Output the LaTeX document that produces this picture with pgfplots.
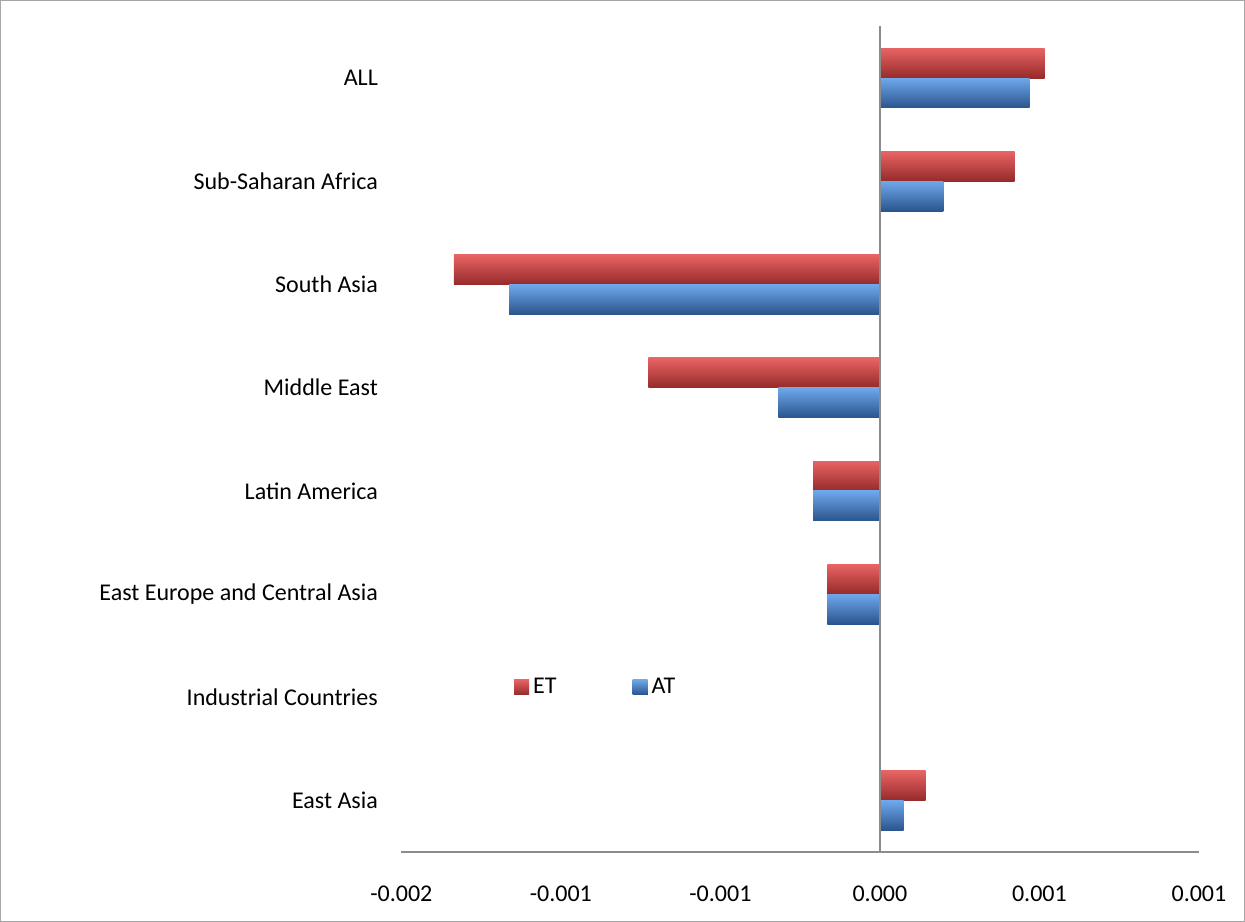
\documentclass[border=0pt]{standalone}
\usepackage{pgfplots}
\pgfplotsset{compat=1.18}
\usepackage{fontspec}
\setmainfont{Carlito}
\definecolor{redtop}{HTML}{E86464}
\definecolor{redmid}{HTML}{C43D3D}
\definecolor{redbot}{HTML}{962A2A}
\definecolor{bluetop}{HTML}{6EA8EC}
\definecolor{bluemid}{HTML}{3E76BE}
\definecolor{bluebot}{HTML}{2A548C}
\definecolor{axgray}{HTML}{8C8C8C}
\pgfplotsset{
  ETbar/.style={draw=none, top color=redtop, middle color=redmid, bottom color=redbot, bar shift=0.145},
  ATbar/.style={draw=none, top color=bluetop, middle color=bluemid, bottom color=bluebot, bar shift=-0.145},
}
\begin{document}
\begin{tikzpicture}
\begin{axis}[
  at={(0pt,0pt)}, anchor=south west,
  scale only axis,
  width=398.5pt, height=412.6pt,
  xmin=-0.0015, xmax=0.001,
  ymin=-0.5, ymax=7.5,
  axis line style={draw=none},
  major tick length=0pt,
  xtick={-0.0015,-0.001,-0.0005,0,0.0005,0.001},
  xticklabels={-0.002,-0.001,-0.001,0.000,0.001,0.001},
  ytick={0,1,2,3,4,5,6,7},
  yticklabels={East Asia,Industrial Countries,East Europe and Central Asia,Latin America,Middle East,South Asia,Sub-Saharan Africa,ALL},
  ticklabel style={font=\fontsize{12}{14}\selectfont},
  yticklabel style={inner sep=0pt, xshift=-11.5pt},
  xticklabel style={inner sep=0pt, yshift=-16.5pt},
  scaled x ticks=false,
  xbar, bar width=0.29,
  legend columns=2,
  legend style={at={(0.245,0.2)}, anchor=center, draw=none, fill=none,
    font=\fontsize{12}{14}\selectfont, /tikz/every even column/.append style={column sep=36pt}},
  legend image code/.code={\fill[#1] (0pt,-3.75pt) rectangle (7.5pt,3.75pt);},
  clip=false,
]
% ET series
\addplot[ETbar] coordinates {(0.000516,7)};
\addlegendentry{ET}
% AT series
\addplot[ATbar] coordinates {(0.000469,7)};
\addlegendentry{AT}
\addplot[ETbar, forget plot] coordinates {(0.000422,6)};
\addplot[ETbar, forget plot] coordinates {(-0.001335,5)};
\addplot[ETbar, forget plot] coordinates {(-0.000726,4)};
\addplot[ETbar, forget plot] coordinates {(-0.000209,3)};
\addplot[ETbar, forget plot] coordinates {(-0.000165,2)};
\addplot[ETbar, forget plot] coordinates {(0.000002,1)};
\addplot[ETbar, forget plot] coordinates {(0.000143,0)};
\addplot[ATbar, forget plot] coordinates {(0.000199,6)};
\addplot[ATbar, forget plot] coordinates {(-0.001162,5)};
\addplot[ATbar, forget plot] coordinates {(-0.000318,4)};
\addplot[ATbar, forget plot] coordinates {(-0.000209,3)};
\addplot[ATbar, forget plot] coordinates {(-0.000165,2)};
\addplot[ATbar, forget plot] coordinates {(0.000002,1)};
\addplot[ATbar, forget plot] coordinates {(0.000074,0)};
\draw[axgray, line width=0.9pt] (axis cs:-0.0015,-0.5) -- (axis cs:0.001,-0.5);
\draw[axgray, line width=0.9pt] (axis cs:0,-0.5) -- (axis cs:0,7.5);
\end{axis}
\draw[gray!70, line width=0.5pt] (-200.25pt,-34.45pt) rectangle (421.25pt,425.55pt);
\end{tikzpicture}
\end{document}
